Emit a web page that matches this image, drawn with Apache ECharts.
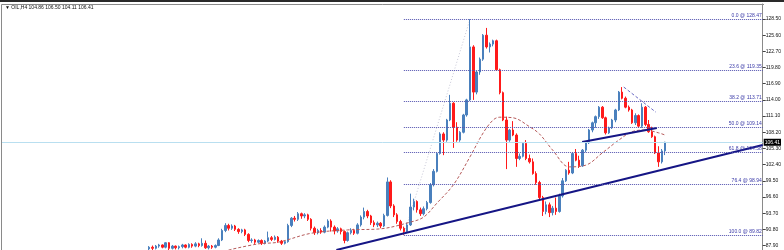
<!DOCTYPE html>
<html><head><meta charset="utf-8">
<script src="https://cdn.jsdelivr.net/npm/echarts@6/dist/echarts.min.js"></script>
<style>html,body{margin:0;padding:0;background:#fff;overflow:hidden}#c{width:784px;height:250px}</style>
</head><body><div id="c"></div>
<script>
// ---- data ----
const slotCount = 230;      // bar slots across the chart (incl. right shift)
const firstBar = 44;        // slot index of the first bar in the arrays
const opens = [87.3,87.6,87.4,87.8,88.0,87.6,88.4,87.4,87.8,87.5,87.7,88.0,87.6,88.1,87.8,88.2,87.9,88.3,87.5,87.8,87.6,87.9,88.9,90.6,91.5,91.0,91.4,90.8,90.4,90.7,89.9,88.8,88.9,88.5,88.8,88.3,88.7,89.3,89.0,89.4,88.7,88.3,88.6,91.5,92.8,92.6,93.6,93.2,93.4,92.6,91.0,90.2,90.6,90.3,91.2,92.3,91.2,90.5,90.9,90.4,88.8,90.2,90.6,90.1,91.6,93.0,94.0,93.2,92.0,91.6,91.9,91.4,93.3,99.3,95.0,93.4,92.2,91.0,90.4,91.6,94.8,95.8,94.3,93.6,94.5,95.6,98.8,101.2,104.4,107.9,106.8,110.4,113.4,109.1,106.8,108.2,111.3,114.0,123.5,115.4,119.0,121.3,125.6,123.5,124.0,124.6,119.4,115.3,110.4,106.8,108.6,107.7,103.5,103.9,106.2,103.5,102.9,100.8,99.2,96.5,94.0,95.2,93.8,94.6,94.0,96.8,99.5,101.4,100.9,104.4,103.2,102.2,105.0,106.3,108.6,109.9,111.0,112.7,110.8,108.1,109.0,110.4,112.2,115.4,114.3,112.7,112.2,109.9,111.2,109.3,112.7,109.6,108.3,107.4,104.5,102.9,104.86];
const highs = [87.8,87.9,88.0,88.2,88.1,88.5,88.5,88.0,87.9,87.9,88.2,88.1,88.3,88.3,88.5,88.4,89.2,88.8,88.0,88.0,88.1,89.2,90.9,91.9,91.8,91.7,91.6,91.0,90.9,90.9,90.1,89.2,89.1,89.0,89.0,88.9,90.4,89.6,89.7,89.6,88.9,88.8,91.8,93.0,93.2,93.9,93.8,93.7,93.6,92.8,91.3,90.9,91.0,91.5,92.6,92.6,91.5,91.2,91.1,90.6,90.4,91.0,90.9,91.9,93.3,94.7,94.3,93.4,92.4,92.2,92.1,93.6,100.1,99.6,95.3,93.7,92.5,91.3,92.0,97.2,96.3,96.0,94.7,94.9,95.9,99.1,101.6,104.6,108.2,108.2,110.6,114.9,113.6,110.0,108.4,111.5,114.2,128.47,123.8,119.2,121.6,125.8,126.9,124.3,124.8,124.8,119.6,115.5,111.0,108.8,110.2,108.0,104.4,106.4,106.8,104.2,103.5,101.2,99.5,96.8,95.8,95.6,95.0,96.5,97.2,100.0,101.6,102.9,104.6,105.2,104.0,105.2,106.5,108.8,110.1,111.2,112.9,112.9,111.0,109.2,110.6,112.4,115.6,116.3,114.6,113.0,112.4,111.6,111.4,113.4,112.9,110.4,109.2,107.6,105.7,105.2,106.50];
const lows = [87.0,87.1,87.2,87.5,87.4,87.4,87.1,87.2,87.2,87.2,87.4,87.4,87.4,87.5,87.6,87.6,87.7,87.3,87.2,87.3,87.4,87.8,88.7,90.3,90.6,90.7,90.5,90.0,90.1,89.6,88.5,88.4,88.2,88.3,88.0,88.1,88.5,88.7,88.8,88.4,88.0,88.1,88.4,91.2,92.2,92.3,92.7,92.8,92.3,90.6,89.8,89.9,90.0,90.1,91.0,90.4,89.9,90.2,89.9,88.3,88.6,89.9,89.8,89.9,91.3,92.6,92.8,91.6,91.2,91.2,91.0,91.2,93.1,94.6,93.0,91.8,90.6,89.82,90.1,91.4,94.2,93.8,93.2,93.3,94.2,95.4,98.5,101.0,104.2,104.1,106.5,110.2,105.4,106.5,106.5,108.0,111.0,113.8,114.0,115.0,118.5,121.0,123.2,122.5,123.6,119.2,115.0,110.2,101.6,106.5,107.5,102.0,103.2,103.7,103.2,102.6,100.6,98.8,96.0,93.2,93.5,93.0,93.3,93.4,93.8,96.5,99.3,100.6,100.7,103.0,101.8,102.0,104.6,106.1,108.2,109.0,110.6,110.6,107.8,107.9,108.8,110.0,112.0,114.1,112.5,111.9,109.7,109.5,109.0,109.0,109.3,108.1,107.2,104.3,102.0,102.6,104.11];
const closes = [87.6,87.4,87.8,88.0,87.6,88.4,87.4,87.8,87.5,87.7,88.0,87.6,88.1,87.8,88.2,87.9,88.3,87.5,87.8,87.6,87.9,88.9,90.6,91.5,91.0,91.4,90.8,90.4,90.7,89.9,88.8,88.9,88.5,88.8,88.3,88.7,89.3,89.0,89.4,88.7,88.3,88.6,91.5,92.8,92.6,93.6,93.2,93.4,92.6,91.0,90.2,90.6,90.3,91.2,92.3,91.2,90.5,90.9,90.4,88.8,90.2,90.6,90.1,91.6,93.0,94.0,93.2,92.0,91.6,91.9,91.4,93.3,99.3,95.0,93.4,92.2,91.0,90.4,91.6,94.8,95.8,94.3,93.6,94.5,95.6,98.8,101.2,104.4,107.9,106.8,110.4,113.4,109.1,106.8,108.2,111.3,114.0,123.5,115.4,119.0,121.3,125.6,123.5,124.0,124.6,119.4,115.3,110.4,106.8,108.6,107.7,103.5,103.9,106.2,103.5,102.9,100.8,99.2,96.5,94.0,95.2,93.8,94.6,94.0,96.8,99.5,101.4,100.9,104.4,103.2,102.2,105.0,106.3,108.6,109.9,111.0,112.7,110.8,108.1,109.0,110.4,112.2,115.4,114.3,112.7,112.2,109.9,111.2,109.3,112.7,109.6,108.3,107.4,104.5,102.9,104.86,106.41];
const maSlots  = [68,77,83,93,104,114,123,127,131,136,141,145,148,150,154,159,162,166,171,176,181,186,190,194,198,200];
const maValues = [87.1,88.2,88.5,90.1,90.7,90.9,92.1,93.0,95.5,98.8,103.8,108.1,110.4,110.9,110.8,109.2,107.9,105.0,102.0,102.3,104.5,106.8,108.3,108.6,108.1,107.7];
const tickLabels = [87.90,90.80,93.70,96.60,99.50,102.40,105.30,108.20,111.10,114.00,116.90,119.80,122.70,125.60,128.50];
const fibLevels = [0.0,23.6,38.2,50.0,61.8,76.4,100.0];
const fibPrices = [128.47,119.35,113.71,109.14,104.58,98.94,89.82];
const fibFrom = [121,89.82];
const fibTo = [141,128.47];
const supportLine = [[100.6,87.1],[229.5,105.92]];
const necklineLine = [[174.9,106.45],[197.5,108.97]];
const resistLine = [[187.5,116.3],[197.2,111.8]];
const lastPrice = 106.41;
const headerText = '\u25BC OIL,H4 104.86 106.50 104.11 106.41';
const yMin = 87.10, yMax = 131.19;

// ---- build ----
const categories = Array.from({length: slotCount}, (_, i) => String(i));
const candleData = categories.map((_, i) => {
  const k = i - firstBar;
  if (k < 0 || k >= opens.length) return '-';
  return [opens[k], closes[k], lows[k], highs[k]];
});
const maData = maSlots.map((s, i) => [s, maValues[i]]);
const fibLines = fibLevels.map((lv, i) => [
  {coord: [fibFrom[0], fibPrices[i]], label: {formatter: lv.toFixed(1) + ' @ ' + fibPrices[i].toFixed(2)}},
  {coord: [slotCount - 0.5, fibPrices[i]]}
]);

const chart = echarts.init(document.getElementById('c'), null, {renderer: 'canvas'});
const gridL = 2, gridR = 20, gridT = 4, gridB = 0;
chart.setOption({
  animation: false,
  backgroundColor: '#ffffff',
  grid: {left: gridL, right: gridR, top: gridT, bottom: gridB},
  xAxis: [
    {type: 'category', data: categories, show: false, boundaryGap: true},
    {type: 'value', min: -0.5, max: slotCount - 0.5, show: false}
  ],
  yAxis: {
    type: 'value', position: 'right', min: yMin, max: yMax, scale: true,
    axisLine: {show: true, onZero: false, lineStyle: {color: '#8a8a8a', width: 1}},
    axisTick: {show: true, length: 3, customValues: tickLabels, lineStyle: {color: '#444'}},
    axisLabel: {customValues: tickLabels, formatter: v => v.toFixed(2), fontSize: 5,
      color: '#111', margin: 3, fontFamily: 'Liberation Sans'},
    splitLine: {show: false}
  },
  graphic: [
    {type: 'rect', shape: {x: 0, y: 0, width: 784, height: 2}, style: {fill: '#2a2a2a'}},
    {type: 'line', shape: {x1: 1.5, y1: 4.5, x2: 764, y2: 4.5}, style: {stroke: '#8a8a8a', lineWidth: 1}},
    {type: 'line', shape: {x1: 1.5, y1: 4.5, x2: 1.5, y2: 250}, style: {stroke: '#8a8a8a', lineWidth: 1}},
    {type: 'text', left: 5, top: 5, style: {text: headerText, fontSize: 5, fill: '#111', fontFamily: 'Liberation Sans'}}
  ],
  series: [
    {
      type: 'candlestick', xAxisIndex: 0, yAxisIndex: 0, data: candleData, barWidth: 2,
      itemStyle: {color: '#4a80bd', color0: '#ff1a1a', borderColor: '#4a80bd', borderColor0: '#ff1a1a', borderWidth: 1},
      markLine: {
        silent: true, symbol: 'none',
        data: [{yAxis: lastPrice}],
        lineStyle: {color: '#b9dff0', type: 'solid', width: 1},
        label: {show: true, position: 'end', distance: 1, formatter: lastPrice.toFixed(2),
          backgroundColor: '#000', color: '#fff', fontSize: 5, padding: [1, 1, 1, 1], fontFamily: 'Liberation Sans'}
      }
    },
    {
      type: 'line', xAxisIndex: 1, yAxisIndex: 0, data: maData, showSymbol: false, smooth: 0.35,
      lineStyle: {color: '#b55a5a', width: 1, type: [3, 2]}, z: 3
    },
    {
      type: 'line', xAxisIndex: 1, yAxisIndex: 0, data: [fibFrom, fibTo], showSymbol: false,
      lineStyle: {color: '#c8c8d8', width: 1, type: [1, 2]}, z: 1
    },
    {
      type: 'line', xAxisIndex: 1, yAxisIndex: 0, data: [], z: 2,
      markLine: {
        silent: true, symbol: 'none', data: fibLines,
        lineStyle: {color: '#4f4fae', width: 1, type: [1, 1]},
        label: {show: true, position: 'insideEndTop', distance: 1, fontSize: 5, color: '#3a3aa8', fontFamily: 'Liberation Sans'}
      }
    },
    {
      type: 'line', xAxisIndex: 1, yAxisIndex: 0, data: supportLine, showSymbol: false,
      lineStyle: {color: '#151585', width: 2}, z: 4
    },
    {
      type: 'line', xAxisIndex: 1, yAxisIndex: 0, data: necklineLine, showSymbol: false,
      lineStyle: {color: '#151585', width: 2}, z: 4
    },
    {
      type: 'line', xAxisIndex: 1, yAxisIndex: 0, data: resistLine, showSymbol: false,
      lineStyle: {color: '#6a6ac4', width: 1, type: [3, 2]}, z: 4
    }
  ]
});
</script>
</body></html>
